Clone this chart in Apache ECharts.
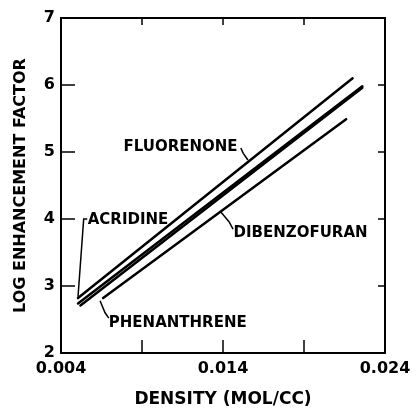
<!DOCTYPE html>
<html>
<head>
<meta charset="utf-8">
<script src="https://cdn.jsdelivr.net/npm/echarts@6/dist/echarts.min.js"></script>
<style>
    html, body { margin: 0; padding: 0; background: #fff; }
    #chart { width: 417px; height: 409px; }
</style>
</head>
<body>
<div id="chart"></div>
<script>
    // line ends: density (mol/cc) and log enhancement factor
    let fluorenoneX = [0.00505, 0.0220];
    let fluorenoneY = [2.82, 6.10];
    let acridineX = [0.00505, 0.0226];
    let acridineY = [2.74, 5.98];
    let phenanthreneX = [0.00520, 0.0226];
    let phenanthreneY = [2.71, 5.96];
    let dibenzofuranX = [0.0066, 0.0216];
    let dibenzofuranY = [2.82, 5.49];

    // axis ticks and labels
    let xTickValues = [0.009, 0.014, 0.019];
    let xLabelValues = [0.004, 0.014, 0.024];
    let xLabelText = ['0.004', '0.014', '0.024'];

    // annotation labels: text, anchor (data coords), align
    let labelNames = ['FLUORENONE', 'ACRIDINE', 'PHENANTHRENE', 'DIBENZOFURAN'];
    let labelAnchors = [[0.01490, 5.07], [0.00565, 3.98], [0.00695, 2.45], [0.01465, 3.79]];
    let labelAligns = ['right', 'left', 'left', 'left'];
    // leader lines (data coords)
    let leaders = [
        [[0.01510, 5.06], [0.01525, 4.98], [0.01554, 4.88]],
        [[0.00562, 4.00], [0.00540, 4.00], [0.00505, 2.84]],
        [[0.00641, 2.78], [0.00672, 2.60], [0.00695, 2.52]],
        [[0.01388, 4.10], [0.01437, 3.96], [0.01462, 3.85]]
    ];

    function pairs(xs, ys) {
        return xs.map(function (x, i) { return [x, ys[i]]; });
    }

    let font = 'DejaVu Sans';
    let myChart = echarts.init(document.getElementById('chart'));

    function lineSeries(name, xs, ys, width) {
        return {
            name: name,
            type: 'line',
            data: pairs(xs, ys),
            symbol: 'none',
            lineStyle: { color: '#000', width: width, cap: 'round' },
            silent: true,
            animation: false
        };
    }

    let option = {
        animation: false,
        grid: { left: 61, right: 32, top: 18, bottom: 56, outerBoundsMode: 'none', containLabel: false },
        xAxis: [
            {
                type: 'value',
                min: 0.004,
                max: 0.024,
                name: 'DENSITY (MOL/CC)',
                nameLocation: 'middle',
                nameGap: 38,
                nameTextStyle: { color: '#000', fontFamily: font, fontWeight: 'bold', fontSize: 17 },
                axisLine: { onZero: false, lineStyle: { color: '#000', width: 2 } },
                axisTick: { inside: true, length: 13, customValues: xTickValues, lineStyle: { color: '#000', width: 1.5 } },
                axisLabel: {
                    customValues: xLabelValues,
                    margin: 8,
                    color: '#000',
                    fontFamily: font,
                    fontWeight: 'bold',
                    fontSize: 16,
                    formatter: function (v) {
                        let i = xLabelValues.findIndex(function (t) { return Math.abs(t - v) < 1e-9; });
                        return i >= 0 ? xLabelText[i] : '';
                    }
                },
                splitLine: { show: false }
            },
            {
                type: 'value',
                position: 'top',
                min: 0.004,
                max: 0.024,
                axisLine: { onZero: false, lineStyle: { color: '#000', width: 2 } },
                axisTick: { inside: true, length: 7, customValues: xTickValues, lineStyle: { color: '#000', width: 1.5 } },
                axisLabel: { show: false },
                splitLine: { show: false }
            }
        ],
        yAxis: [
            {
                type: 'value',
                min: 2,
                max: 7,
                interval: 1,
                name: 'LOG ENHANCEMENT FACTOR',
                nameLocation: 'middle',
                nameGap: 32,
                nameTextStyle: { color: '#000', fontFamily: font, fontWeight: 'bold', fontSize: 16 },
                axisLine: { onZero: false, lineStyle: { color: '#000', width: 2 } },
                axisTick: { inside: true, length: 14, lineStyle: { color: '#000', width: 1.5 } },
                axisLabel: { margin: 6, color: '#000', fontFamily: font, fontWeight: 'bold', fontSize: 16 },
                splitLine: { show: false }
            },
            {
                type: 'value',
                position: 'right',
                min: 2,
                max: 7,
                interval: 1,
                axisLine: { onZero: false, lineStyle: { color: '#000', width: 2 } },
                axisTick: { inside: true, length: 7, lineStyle: { color: '#000', width: 1.5 } },
                axisLabel: { show: false },
                splitLine: { show: false }
            }
        ],
        series: [
            lineSeries('Fluorenone', fluorenoneX, fluorenoneY, 2.5),
            lineSeries('Acridine', acridineX, acridineY, 2.5),
            lineSeries('Phenanthrene', phenanthreneX, phenanthreneY, 2.5),
            lineSeries('Dibenzofuran', dibenzofuranX, dibenzofuranY, 2.5)
        ]
    };
    myChart.setOption(option);

    // labels and leader lines, placed through the axes
    function px(p) {
        return myChart.convertToPixel({ seriesIndex: 0 }, p);
    }
    let graphics = [];
    labelNames.forEach(function (name, i) {
        let p = px(labelAnchors[i]);
        graphics.push({
            type: 'text',
            x: p[0],
            y: p[1],
            silent: true,
            style: {
                text: name,
                fill: '#000',
                font: 'bold 15px "DejaVu Sans"',
                textAlign: labelAligns[i],
                textVerticalAlign: 'middle'
            }
        });
        graphics.push({
            type: 'polyline',
            silent: true,
            shape: { points: leaders[i].map(px) },
            style: { stroke: '#000', lineWidth: 1.5, fill: null }
        });
    });
    myChart.setOption({ graphic: graphics });
</script>
</body>
</html>
